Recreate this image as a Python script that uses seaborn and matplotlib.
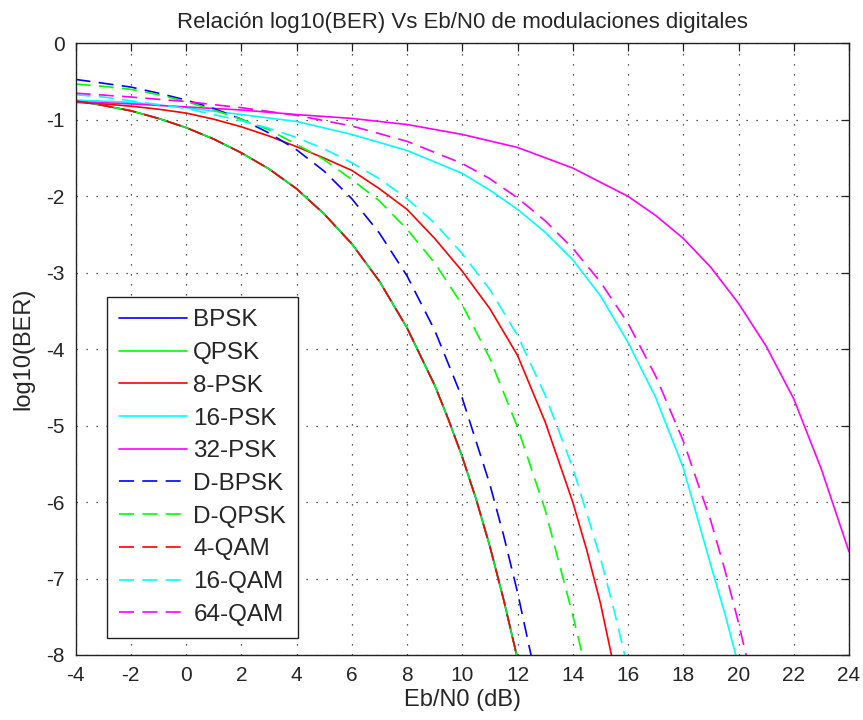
import numpy as np
import pandas as pd
import matplotlib
matplotlib.use("Agg")
import matplotlib.pyplot as plt
import seaborn as sns

# ---------------- data (log10 BER) ----------------
ebn0_bpsk = [-4, -3, -2, -1, 0, 1, 2, 3, 4, 5, 6, 7, 8, 9, 9.5, 10, 10.5, 11, 11.5, 12]
bpsk = [-0.75, -0.81, -0.88, -0.98, -1.10, -1.25, -1.43, -1.64, -1.90, -2.23, -2.62,
        -3.11, -3.72, -4.47, -4.92, -5.41, -5.96, -6.58, -7.28, -8.05]
qpsk = list(bpsk)
qam4 = list(bpsk)

ebn0_8psk = [-4, -3, -2, -1, 0, 1, 2, 3, 4, 5, 6, 7, 8, 9, 10, 11, 12, 13, 14, 14.5, 15, 15.4]
psk8 = [-0.77, -0.79, -0.82, -0.86, -0.91, -0.99, -1.09, -1.21, -1.35, -1.50, -1.66,
        -1.90, -2.17, -2.55, -2.98, -3.47, -4.08, -4.95, -6.00, -6.62, -7.32, -8.00]

ebn0_16psk = [-4, -2, 0, 2, 4, 6, 8, 9, 10, 11, 12, 13, 14, 15, 16, 17, 18, 19, 19.5, 19.9]
psk16 = [-0.74, -0.77, -0.84, -0.93, -1.02, -1.19, -1.40, -1.55, -1.70, -1.92, -2.17,
         -2.47, -2.83, -3.30, -3.91, -4.63, -5.55, -6.83, -7.45, -8.00]

ebn0_32psk = [-4, -2, 0, 2, 4, 6, 8, 10, 12, 14, 16, 17, 18, 19, 20, 21, 22, 23, 24]
psk32 = [-0.76, -0.79, -0.83, -0.87, -0.93, -0.98, -1.06, -1.19, -1.36, -1.63, -2.00,
         -2.25, -2.55, -2.93, -3.40, -3.96, -4.65, -5.57, -6.65]

ebn0_dbpsk = [-4, -3, -2, -1, 0, 1, 2, 3, 4, 5, 6, 7, 8, 9, 10, 11, 11.5, 12, 12.5]
dbpsk = [-0.47, -0.52, -0.57, -0.65, -0.74, -0.85, -0.99, -1.17, -1.39, -1.67, -2.03,
         -2.48, -3.04, -3.75, -4.64, -5.77, -6.44, -7.18, -8.02]

ebn0_dqpsk = [-4, -3, -2, -1, 0, 1, 2, 3, 4, 5, 6, 7, 8, 9, 10, 11, 12, 13, 14, 14.35]
dqpsk = [-0.53, -0.56, -0.60, -0.67, -0.76, -0.87, -0.99, -1.13, -1.32, -1.52, -1.78,
         -2.06, -2.43, -2.87, -3.42, -4.12, -5.02, -6.10, -7.48, -8.00]

ebn0_16qam = [-4, -3, -2, -1, 0, 1, 2, 3, 4, 5, 6, 7, 8, 9, 10, 11, 12, 13, 14, 15, 15.5, 15.9]
qam16 = [-0.67, -0.70, -0.75, -0.80, -0.85, -0.93, -1.01, -1.11, -1.23, -1.38, -1.56,
         -1.77, -2.03, -2.35, -2.75, -3.22, -3.82, -4.60, -5.55, -6.73, -7.42, -8.03]

ebn0_64qam = [-4, -2, 0, 2, 4, 6, 8, 10, 11, 12, 13, 14, 15, 16, 17, 18, 19, 19.5, 20, 20.3]
qam64 = [-0.65, -0.70, -0.76, -0.84, -0.94, -1.08, -1.28, -1.57, -1.77, -2.02, -2.32,
         -2.68, -3.12, -3.66, -4.35, -5.20, -6.25, -6.88, -7.58, -8.04]

labels = ["BPSK", "QPSK", "8-PSK", "16-PSK", "32-PSK",
          "D-BPSK", "D-QPSK", "4-QAM", "16-QAM", "64-QAM"]
x_ticks = list(range(-4, 25, 2))
y_ticks = list(range(-8, 1, 1))

# ---------------- style ----------------
sns.set_style("white")
FAM = ["Liberation Sans", "DejaVu Sans"]
plt.rcParams["font.family"] = FAM

series = [
    (labels[0], ebn0_bpsk, bpsk, "#0000ff", "-"),
    (labels[1], ebn0_bpsk, qpsk, "#00ff00", "-"),
    (labels[2], ebn0_8psk, psk8, "#ff0000", "-"),
    (labels[3], ebn0_16psk, psk16, "#00ffff", "-"),
    (labels[4], ebn0_32psk, psk32, "#ff00ff", "-"),
    (labels[5], ebn0_dbpsk, dbpsk, "#0000ff", "--"),
    (labels[6], ebn0_dqpsk, dqpsk, "#00ff00", "--"),
    (labels[7], ebn0_bpsk, qam4, "#ff0000", "--"),
    (labels[8], ebn0_16qam, qam16, "#00ffff", "--"),
    (labels[9], ebn0_64qam, qam64, "#ff00ff", "--"),
]

fig = plt.figure(figsize=(8.63, 7.2), dpi=100)
ax = fig.add_axes([0.0875, 0.0903, 0.8963, 0.8493])

LW = 1.2
for name, xs, ys, col, ls in series:
    style = "-" if ls == "-" else (0, (9, 5))
    sns.lineplot(x=xs, y=ys, ax=ax, color=col, linestyle=style, linewidth=LW,
                 label=name, sort=False, estimator=None)

ax.set_xlim(-4, 24)
ax.set_ylim(-8, 0)
ax.set_xticks(x_ticks)
ax.set_yticks(y_ticks)
ax.set_xticklabels([str(v) for v in x_ticks])
ax.set_yticklabels([str(v) for v in y_ticks])

ax.grid(True, color="black", linestyle=(0, (1, 7)), linewidth=0.9, alpha=0.85)
ax.set_axisbelow(True)
for sp in ax.spines.values():
    sp.set_visible(True)
    sp.set_color("#222222")
    sp.set_linewidth(1.0)

ax.tick_params(direction="in", length=6, width=0.9, color="#222222",
               top=True, right=True, labelsize=15, pad=8)

ax.set_title("Relación log10(BER) Vs Eb/N0 de modulaciones digitales",
             fontsize=16, pad=11)
ax.set_xlabel("Eb/N0 (dB)", fontsize=17, labelpad=3)
ax.set_ylabel("log10(BER)", fontsize=17, labelpad=8)

leg = ax.legend(loc="lower left", bbox_to_anchor=(0.0407, 0.0278),
                borderaxespad=0, fontsize=17.5, handlelength=2.8,
                handletextpad=0.25, labelspacing=0.44, borderpad=0.5,
                fancybox=False, framealpha=1, edgecolor="#222222")
leg.get_frame().set_linewidth(1.0)

fig.savefig("out.png", dpi=100)
